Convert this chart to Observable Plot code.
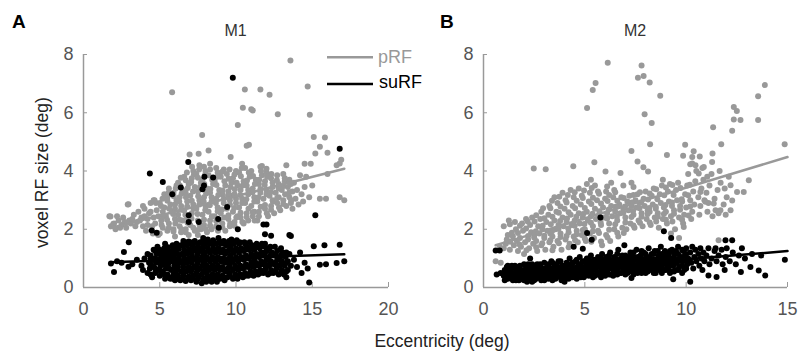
<!DOCTYPE html>
<html><head><meta charset="utf-8">
<script src="https://cdn.jsdelivr.net/npm/d3@7"></script>
<script src="https://cdn.jsdelivr.net/npm/@observablehq/plot@0.6"></script>
<style>
body{margin:0;background:#fff;}
#chart{position:relative;width:799px;height:352px;overflow:hidden;font-family:"Liberation Sans",Arial,sans-serif;}
#chart .panel{position:absolute;top:0;}
#overlay{position:absolute;left:0;top:0;pointer-events:none;}
</style></head>
<body><div id="chart"></div>
<script>
const FONT = '"Liberation Sans", Arial, sans-serif';
const yTicks = [0, 2, 4, 6, 8];
const m1_xTicks = [0, 5, 10, 15, 20];
const m2_xTicks = [0, 5, 10, 15];
const seriesNames = ["pRF", "suRF"];
const panelTitles = ["M1", "M2"];

// fitted lines (start, end)
const m1_fit_pRF = [[1.77, 2.04], [17.1, 4.08]];
const m1_fit_suRF = [[1.77, 0.87], [17.1, 1.14]];
const m2_fit_pRF = [[0.6, 1.45], [15, 4.48]];
const m2_fit_suRF = [[0.6, 0.45], [15, 1.25]];

// M1 pRF: flat x,y pairs
const m1_pRF = [
1.7,2.45, 1.8,2.1, 2.0,2.2, 2.1,2.0, 2.3,2.3, 2.5,2.15, 2.6,2.4, 2.8,2.05, 2.9,2.85, 3.0,2.3, 3.1,2.2, 3.3,2.5, 3.5,2.25, 3.6,2.6, 3.8,2.4, 3.9,2.1, 4.0,2.7, 4.1,1.95, 4.2,2.35, 4.3,2.55, 4.4,2.9, 4.5,2.1, 4.6,3.0, 4.7,2.2, 4.8,2.65, 4.9,1.8, 4.9,2.45,
2.2,2.45, 2.7,2.25, 3.2,2.35, 3.4,2.1, 3.7,2.3, 4.0,2.45, 4.2,2.15, 4.4,2.6, 4.6,2.4, 4.75,2.9, 4.55,1.85, 2.4,2.05, 3.9,2.8,
5.0,1.85, 5.1,2.3, 5.2,2.6, 5.0,2.9, 5.3,3.2, 5.2,2.05, 5.3,2.75,
5.5,1.95, 5.4,2.45, 5.6,2.2, 5.7,2.85, 5.5,3.1, 5.6,3.4, 5.8,2.6,
5.9,2.0, 6.0,2.35, 6.1,3.0, 5.9,3.25, 6.0,2.7, 6.1,3.5, 6.0,1.75,
6.3,2.1, 6.2,2.5, 6.4,2.8, 6.3,3.1, 6.5,3.35, 6.2,3.6, 6.4,1.9, 6.5,2.3,
6.7,2.0, 6.6,2.65, 6.8,2.95, 6.7,3.25, 6.9,3.55, 6.6,3.8, 6.8,2.4, 6.9,1.8,
7.0,2.15, 7.1,2.55, 7.2,2.85, 7.0,3.15, 7.3,3.45, 7.1,3.75, 7.2,4.0, 7.3,1.95, 7.0,3.6,
7.5,2.3, 7.4,2.7, 7.6,3.0, 7.5,3.3, 7.7,3.6, 7.4,3.9, 7.6,4.2, 7.7,2.0, 7.5,1.8,
7.9,2.15, 7.8,2.5, 8.0,2.8, 7.9,3.1, 8.1,3.4, 7.8,3.7, 8.0,4.0, 8.1,1.9, 8.0,2.65,
8.3,2.3, 8.2,2.6, 8.4,2.95, 8.3,3.25, 8.5,3.55, 8.2,3.85, 8.4,2.0, 8.5,3.0, 8.3,4.25,
8.7,2.1, 8.6,2.45, 8.8,2.75, 8.7,3.05, 8.9,3.35, 8.6,3.65, 8.8,3.95, 8.9,2.3,
9.1,2.2, 9.0,2.55, 9.2,2.9, 9.1,3.2, 9.3,3.5, 9.0,3.8, 9.2,4.05, 9.3,1.95,
9.5,2.35, 9.4,2.7, 9.6,3.0, 9.5,3.3, 9.7,3.6, 9.4,3.9, 9.6,2.1, 9.7,3.15,
9.9,2.25, 9.8,2.6, 10.0,2.9, 9.9,3.2, 10.1,3.5, 9.8,3.75, 10.0,4.0, 10.1,2.45,
10.3,2.4, 10.2,2.75, 10.4,3.05, 10.3,3.35, 10.5,3.65, 10.2,3.95, 10.4,4.25, 10.5,2.2,
10.7,2.55, 10.6,2.9, 10.8,3.2, 10.7,3.5, 10.9,3.8, 10.6,4.1, 10.8,2.3,
11.1,2.45, 11.0,2.8, 11.2,3.1, 11.1,3.4, 11.3,3.7, 11.0,4.0, 11.2,2.6,
11.5,2.6, 11.4,2.95, 11.6,3.25, 11.5,3.55, 11.7,3.85, 11.4,2.3, 11.6,4.15,
11.9,2.7, 11.8,3.05, 12.0,3.35, 11.9,3.65, 12.1,2.45, 12.0,3.95,
12.3,2.8, 12.2,3.15, 12.4,3.45, 12.3,3.75, 12.5,2.55, 12.4,3.0,
12.7,2.9, 12.6,3.25, 12.8,3.55, 12.7,3.85, 12.9,2.65, 12.8,3.1,
13.1,3.0, 13.0,3.35, 13.2,3.65, 13.3,2.8, 13.1,3.9,
13.5,3.1, 13.4,3.45, 13.6,2.9, 13.7,3.3, 13.5,3.7,
13.9,3.05, 14.0,3.35, 13.8,3.6, 14.1,2.85,
14.3,3.2, 14.5,3.45, 14.4,2.95, 14.6,3.8, 14.2,3.85,
14.8,3.1, 15.0,3.5, 14.9,4.25,
5.12,2.15, 5.22,2.45, 5.08,2.8, 5.18,3.05,
5.6,2.05, 5.48,2.33, 5.62,2.7, 5.5,2.98, 5.58,3.25,
5.9,1.92, 6.02,2.2, 5.88,2.52, 6.0,2.85, 5.92,3.13, 6.05,3.4,
6.42,2.0, 6.3,2.33, 6.4,2.67, 6.28,2.95, 6.44,3.23, 6.32,3.5, 6.38,3.77,
6.7,1.9, 6.82,2.22, 6.68,2.5, 6.8,2.78, 6.72,3.1, 6.84,3.42, 6.7,3.68, 6.78,3.95,
7.2,2.05, 7.08,2.37, 7.22,2.7, 7.1,2.98, 7.18,3.3, 7.06,3.62, 7.24,3.88, 7.12,4.15,
7.5,1.97, 7.62,2.15, 7.48,2.52, 7.6,2.85, 7.52,3.13, 7.64,3.45, 7.5,3.77, 7.58,4.05,
8.02,2.0, 7.9,2.33, 8.0,2.67, 7.88,2.95, 8.04,3.23, 7.92,3.55, 7.98,3.87, 7.9,4.15,
8.3,2.13, 8.42,2.45, 8.28,2.82, 8.4,3.1, 8.32,3.38, 8.44,3.7, 8.3,4.05,
8.82,1.95, 8.7,2.28, 8.8,2.62, 8.68,2.9, 8.84,3.18, 8.72,3.52, 8.78,3.8, 8.7,4.1,
9.1,2.07, 9.22,2.4, 9.08,2.68, 9.2,3.05, 9.12,3.33, 9.24,3.65, 9.1,3.97,
9.62,2.2, 9.5,2.48, 9.6,2.85, 9.48,3.17, 9.64,3.45, 9.52,3.73, 9.58,4.05,
9.9,2.12, 10.02,2.4, 9.88,2.73, 10.0,3.05, 9.92,3.37, 10.04,3.6, 9.9,3.88,
10.42,2.25, 10.3,2.57, 10.4,2.9, 10.28,3.18, 10.44,3.5, 10.32,3.82, 10.38,4.1,
10.7,2.42, 10.82,2.7, 10.68,3.03, 10.8,3.35, 10.72,3.67, 10.84,3.95,
11.22,2.3, 11.1,2.58, 11.2,2.95, 11.08,3.27, 11.24,3.55, 11.12,3.83,
11.5,2.45, 11.62,2.77, 11.48,3.1, 11.6,3.38, 11.52,3.7, 11.64,4.0,
12.02,2.55, 11.9,2.83, 12.0,3.2, 11.88,3.52, 12.04,3.8,
12.3,2.67, 12.42,2.95, 12.28,3.28, 12.4,3.6, 12.32,3.9,
12.82,2.75, 12.7,3.07, 12.8,3.4, 12.68,3.68,
13.1,2.87, 13.22,3.2, 13.08,3.48, 13.2,3.75,
13.62,3.0, 13.5,3.27, 13.6,3.55,
13.57,7.79, 5.81,6.7, 10.58,6.8, 11.6,6.8, 12.2,6.62, 14.7,6.9, 10.45,6.17, 11.0,6.12, 11.1,6.08, 12.74,5.95, 14.84,5.93, 10.12,5.58, 7.78,5.24, 15.1,5.17, 15.83,5.15, 15.5,4.83, 10.7,4.87, 10.85,4.9, 15.2,4.6, 16.0,4.63, 6.96,4.57, 7.55,4.59, 8.2,4.7, 9.65,4.48, 16.9,4.39, 16.8,4.26, 16.6,4.2, 14.5,4.25, 13.3,4.2, 11.7,4.17, 12.0,4.08, 17.1,3.0, 16.8,3.1, 15.5,3.05, 15.9,3.05, 13.7,2.7, 16.0,3.9, 2.95,2.86, 1.77,2.44, 4.66,3.0, 1.95,2.18
];

// M1 suRF
const m1_suRF = [
1.8,0.82, 2.0,0.53, 2.2,0.9, 2.5,0.85, 2.65,1.22, 2.95,0.71, 2.97,1.55, 3.2,0.8, 3.5,0.95, 3.8,0.75, 4.0,1.0, 3.9,0.6,
4.2,0.5, 4.3,0.85, 4.2,1.15, 4.35,0.65, 4.4,1.0,
4.5,0.35, 4.6,0.7, 4.5,1.0, 4.6,1.3, 4.7,0.5, 4.75,0.85,
4.8,1.15, 4.9,0.6, 4.95,0.95, 4.85,1.4,
5.0,0.4, 5.05,0.75, 5.1,1.05, 5.0,1.3, 5.2,0.55, 5.2,0.9, 5.25,1.2,
5.35,0.3, 5.4,0.65, 5.4,0.95, 5.45,1.25, 5.35,1.5, 5.5,0.45, 5.55,0.8, 5.6,1.1, 5.55,1.38,
5.7,0.3, 5.75,0.6, 5.7,0.9, 5.8,1.2, 5.85,1.45, 5.9,0.45, 5.95,0.75, 5.9,1.05,
6.0,0.25, 6.05,0.55, 6.1,0.88, 6.0,1.2, 6.1,1.5, 6.2,0.4, 6.2,0.7, 6.25,1.02, 6.25,1.32,
6.35,0.25, 6.4,0.55, 6.4,0.85, 6.45,1.15, 6.4,1.45, 6.55,0.4, 6.55,0.7, 6.6,1.0, 6.6,1.3, 6.55,1.6,
6.7,0.22, 6.75,0.55, 6.75,0.85, 6.8,1.15, 6.8,1.45, 6.9,0.38, 6.9,0.7, 6.95,1.0, 6.95,1.3, 6.9,1.58,
7.05,0.25, 7.05,0.55, 7.1,0.85, 7.1,1.15, 7.15,1.45, 7.2,0.4, 7.25,0.7, 7.25,1.0, 7.3,1.3, 7.3,1.6,
7.4,0.2, 7.4,0.5, 7.45,0.8, 7.45,1.1, 7.5,1.4, 7.55,0.35, 7.6,0.65, 7.6,0.95, 7.6,1.25, 7.65,1.55,
7.75,0.15, 7.75,0.45, 7.8,0.75, 7.8,1.05, 7.8,1.35, 7.85,1.7, 7.9,0.3, 7.95,0.6, 7.95,0.9, 7.95,1.2, 8.0,1.5,
8.05,0.2, 8.1,0.45, 8.1,0.75, 8.1,1.05, 8.15,1.35, 8.15,1.65, 8.25,0.3, 8.25,0.6, 8.3,0.9, 8.3,1.2, 8.3,1.5,
8.4,0.2, 8.45,0.45, 8.45,0.75, 8.45,1.05, 8.5,1.35, 8.5,1.62, 8.6,0.3, 8.6,0.6, 8.65,0.9, 8.65,1.2, 8.7,1.5,
8.75,0.2, 8.8,0.45, 8.8,0.75, 8.8,1.05, 8.85,1.35, 8.85,1.7, 8.95,0.3, 8.95,0.6, 9.0,0.9, 9.0,1.2, 9.0,1.5,
9.1,0.4, 9.1,0.7, 9.15,1.0, 9.15,1.3, 9.2,1.6, 9.25,0.25, 9.3,0.55, 9.3,0.85, 9.3,1.15, 9.35,1.45,
9.45,0.35, 9.45,0.65, 9.5,0.95, 9.5,1.25, 9.5,1.55, 9.6,0.5, 9.6,0.8, 9.65,1.1, 9.65,1.4, 9.7,1.65,
9.8,0.3, 9.8,0.6, 9.8,0.9, 9.85,1.2, 9.85,1.5, 9.95,0.45, 9.95,0.75, 10.0,1.05, 10.0,1.35, 10.05,1.62,
10.1,0.3, 10.15,0.6, 10.15,0.9, 10.2,1.2, 10.2,1.5, 10.3,0.45, 10.3,0.75, 10.35,1.05, 10.35,1.35,
10.45,0.35, 10.45,0.65, 10.5,0.95, 10.5,1.25, 10.55,1.55, 10.6,0.5, 10.65,0.8, 10.65,1.1, 10.7,1.4,
10.8,0.4, 10.8,0.7, 10.85,1.0, 10.85,1.3, 10.9,1.55, 10.95,0.55, 11.0,0.85, 11.0,1.15, 11.05,1.45,
11.15,0.4, 11.15,0.7, 11.2,1.0, 11.2,1.3, 11.3,0.55, 11.3,0.85, 11.35,1.15, 11.35,1.5,
11.45,0.45, 11.5,0.75, 11.5,1.05, 11.55,1.35, 11.6,0.6, 11.65,0.9, 11.65,1.2, 11.7,1.5,
11.8,0.5, 11.8,0.8, 11.85,1.1, 11.9,1.4, 11.95,0.65, 12.0,0.95, 12.0,1.25,
12.1,0.45, 12.15,0.75, 12.15,1.05, 12.2,1.35, 12.3,0.6, 12.3,0.9, 12.35,1.2,
12.45,0.5, 12.5,0.8, 12.5,1.1, 12.55,1.4, 12.65,0.65, 12.7,0.95, 12.7,1.25,
12.8,0.45, 12.85,0.75, 12.9,1.05, 13.0,0.6, 13.0,0.9, 13.05,1.2,
13.15,0.45, 13.2,0.75, 13.25,1.05, 13.4,0.6, 13.4,0.9, 13.5,1.15, 13.6,0.75, 13.8,0.95, 14.0,0.7, 14.2,1.2, 14.5,0.85, 14.3,0.5,
4.4,0.45, 4.4,0.8, 4.4,1.1, 4.7,0.65, 4.7,1.0, 4.7,1.25, 5.0,0.6, 5.0,0.9, 5.0,1.15,
5.3,0.45, 5.3,0.8, 5.3,1.1, 5.3,1.35, 5.6,0.35, 5.6,0.65, 5.6,0.95, 5.6,1.25,
5.9,0.3, 5.9,0.6, 5.9,0.9, 5.9,1.2, 5.9,1.35, 6.15,0.3, 6.15,0.6, 6.15,0.85, 6.15,1.15, 6.15,1.45,
6.5,0.3, 6.5,0.55, 6.5,0.85, 6.5,1.15, 6.5,1.45, 6.85,0.3, 6.85,0.6, 6.85,0.95, 6.85,1.25, 6.85,1.55,
7.15,0.3, 7.15,0.65, 7.15,0.95, 7.15,1.25, 7.15,1.55, 7.5,0.3, 7.5,0.6, 7.5,0.9, 7.5,1.2, 7.5,1.5,
7.85,0.25, 7.85,0.55, 7.85,0.85, 7.85,1.15, 7.85,1.45, 7.85,1.6, 8.2,0.35, 8.2,0.65, 8.2,0.95, 8.2,1.25, 8.2,1.55,
8.55,0.35, 8.55,0.65, 8.55,0.95, 8.55,1.25, 8.55,1.5, 8.9,0.35, 8.9,0.65, 8.9,1.0, 8.9,1.3, 8.9,1.6,
9.2,0.35, 9.2,0.6, 9.2,0.9, 9.2,1.2, 9.2,1.5, 9.55,0.4, 9.55,0.7, 9.55,1.0, 9.55,1.3, 9.55,1.6,
9.9,0.35, 9.9,0.65, 9.9,0.95, 9.9,1.25, 9.9,1.55, 10.25,0.4, 10.25,0.7, 10.25,1.0, 10.25,1.3, 10.25,1.55,
10.6,0.4, 10.6,0.7, 10.6,1.0, 10.6,1.3, 10.6,1.5, 10.95,0.45, 10.95,0.75, 10.95,1.05, 10.95,1.35,
11.25,0.45, 11.25,0.75, 11.25,1.05, 11.25,1.4, 11.6,0.5, 11.6,0.8, 11.6,1.1, 11.6,1.4,
11.9,0.55, 11.9,0.85, 11.9,1.2, 11.9,1.5, 12.25,0.5, 12.25,0.8, 12.25,1.1, 12.25,1.4,
12.6,0.55, 12.6,0.85, 12.6,1.15, 12.95,0.5, 12.95,0.8, 12.95,1.1, 12.95,1.35, 13.3,0.55, 13.3,0.85, 13.3,1.2,
9.79,7.2, 16.8,4.76, 6.87,4.31, 4.35,3.91, 5.2,3.62, 5.82,3.2, 6.38,3.43, 7.93,3.8, 8.5,3.78, 7.9,3.5, 7.8,3.37, 9.42,2.76, 15.2,2.48, 6.9,2.48, 6.9,2.25, 7.56,2.25, 8.83,2.35, 8.87,2.05, 10.12,2.0, 11.8,2.16, 12.0,2.16, 4.48,1.96, 4.8,1.88, 15.1,1.42, 15.8,1.45, 16.8,1.47, 17.1,0.9, 16.6,0.84, 15.9,0.8, 15.5,0.78, 14.7,0.65, 14.8,0.17, 13.3,0.35, 13.6,1.77, 13.5,1.8, 12.3,1.78, 11.9,1.83
];

// M2 pRF
const m2_pRF = [
0.6,0.9, 0.85,0.85, 0.8,1.4, 1.0,1.35,
1.1,1.5, 1.2,1.8, 1.0,2.1, 1.3,1.3, 1.25,2.3, 1.15,1.65,
1.5,1.45, 1.45,1.75, 1.6,2.0, 1.55,2.25, 1.7,1.25, 1.65,1.6,
1.85,1.4, 1.8,1.7, 1.95,1.95, 1.9,2.2, 2.05,1.55, 2.0,1.15, 2.1,2.35,
2.25,1.35, 2.2,1.65, 2.35,1.9, 2.3,2.15, 2.45,1.5, 2.4,2.4, 2.5,1.8, 2.48,4.09,
2.65,1.25, 2.6,1.6, 2.75,1.85, 2.7,2.1, 2.85,1.45, 2.8,2.35, 2.9,2.0, 2.85,2.6,
3.05,1.3, 3.0,1.7, 3.15,1.95, 3.1,2.25, 3.25,1.55, 3.2,2.5, 3.3,1.85, 3.25,2.8, 3.07,4.06,
3.45,1.4, 3.4,1.75, 3.55,2.0, 3.5,2.3, 3.65,1.6, 3.6,2.6, 3.7,2.15, 3.65,2.9, 3.5,3.1,
3.85,1.3, 3.8,1.85, 3.95,2.1, 3.9,2.4, 4.05,1.65, 4.0,2.7, 4.1,2.25, 4.05,3.0, 3.9,3.25,
4.25,1.5, 4.2,1.9, 4.35,2.15, 4.3,2.5, 4.45,1.75, 4.4,2.8, 4.5,2.3, 4.45,3.1, 4.3,3.35, 4.43,4.16,
4.65,1.55, 4.6,1.95, 4.75,2.2, 4.7,2.55, 4.85,1.8, 4.8,2.85, 4.9,2.4, 4.85,3.15, 4.7,3.4,
5.05,1.6, 5.0,2.0, 5.15,2.3, 5.1,2.6, 5.25,1.85, 5.2,2.95, 5.3,2.45, 5.25,3.25, 5.1,3.55, 5.3,3.7,
5.45,1.7, 5.4,2.1, 5.55,2.35, 5.5,2.7, 5.65,1.95, 5.6,3.0, 5.7,2.5, 5.65,3.3, 5.5,3.5, 5.47,4.3,
5.85,1.45, 5.8,2.15, 5.95,2.4, 5.9,2.75, 6.05,1.8, 6.0,3.05, 6.1,2.55, 6.05,3.3, 6.02,3.98,
6.25,1.6, 6.2,2.2, 6.35,2.45, 6.3,2.8, 6.45,2.0, 6.4,3.1, 6.5,2.6, 6.45,3.35, 6.3,3.6,
6.65,1.75, 6.6,2.3, 6.75,2.55, 6.7,2.85, 6.85,2.05, 6.8,3.1, 6.9,2.7, 6.76,3.93, 6.9,3.5,
7.05,2.0, 7.0,2.4, 7.15,2.65, 7.1,2.95, 7.25,2.2, 7.2,3.15, 7.3,2.8, 7.3,3.6, 7.4,3.45,
7.45,2.05, 7.4,2.5, 7.55,2.75, 7.5,3.0, 7.65,2.3, 7.6,3.2, 7.7,2.9,
7.85,2.1, 7.8,2.55, 7.95,2.8, 7.9,3.05, 8.05,2.35, 8.0,3.3, 8.1,2.65,
8.25,2.15, 8.2,2.6, 8.35,2.85, 8.3,3.15, 8.45,2.4, 8.4,3.4, 8.5,2.7,
8.65,2.05, 8.6,2.55, 8.75,2.9, 8.7,3.2, 8.85,2.35, 8.8,3.5, 8.9,2.75, 8.85,3.7,
9.05,2.2, 9.0,2.6, 9.15,2.95, 9.1,3.3, 9.25,2.45, 9.2,3.55, 9.3,2.8, 9.25,1.85,
9.45,2.0, 9.4,2.65, 9.55,3.0, 9.5,3.35, 9.65,2.4, 9.6,3.6, 9.7,2.8, 9.65,1.7,
9.85,2.2, 9.8,2.95, 9.95,3.2, 9.9,2.5, 10.05,3.5, 10.0,2.75, 10.1,3.9, 9.88,2.08,
10.25,2.35, 10.2,3.0, 10.35,3.3, 10.3,2.6, 10.45,3.65, 10.4,2.85, 10.5,4.0,
10.65,2.5, 10.6,3.1, 10.75,3.4, 10.7,2.8, 10.85,3.7, 10.8,4.1, 10.9,3.0,
11.05,2.6, 11.0,3.25, 11.15,3.5, 11.1,2.9, 11.25,3.9, 11.3,2.45,
11.45,2.65, 11.4,3.05, 11.55,3.35, 11.65,4.0, 11.6,2.55, 11.7,3.6,
11.85,2.85, 11.9,3.4, 12.0,3.1, 12.1,3.8, 11.95,2.5,
12.19,3.51, 12.51,3.28, 12.84,3.28, 13.09,3.68, 12.27,2.99, 12.19,2.65, 11.69,2.65, 11.36,2.88, 10.95,2.94, 10.7,3.28, 11.04,3.8, 10.62,3.91, 10.87,4.14, 11.28,4.31, 10.46,4.2, 10.3,4.26,
1.32,1.57, 1.4,1.88, 1.3,2.17, 1.78,1.48, 1.7,1.87, 1.8,2.12,
2.12,1.28, 2.2,1.77, 2.1,2.03, 2.18,2.27, 2.6,1.38, 2.5,1.72, 2.58,1.93, 2.52,2.27, 2.6,2.48,
2.9,1.52, 3.0,1.78, 2.92,2.12, 3.0,2.38, 2.94,2.72,
3.4,1.28, 3.3,1.62, 3.38,1.93, 3.32,2.17, 3.4,2.43, 3.3,2.72, 3.38,2.98,
3.72,1.52, 3.8,1.73, 3.7,2.02, 3.78,2.28, 3.72,2.57, 3.8,2.78, 3.74,3.12,
4.2,1.38, 4.1,1.77, 4.18,2.03, 4.12,2.37, 4.2,2.58, 4.1,2.92, 4.16,3.18,
4.52,1.62, 4.6,1.83, 4.5,2.12, 4.58,2.43, 4.52,2.72, 4.6,2.98, 4.5,3.27,
5.0,1.68, 4.9,1.97, 4.98,2.18, 4.92,2.52, 5.0,2.73, 4.9,3.07, 4.96,3.33,
5.32,1.57, 5.4,1.93, 5.3,2.22, 5.38,2.53, 5.32,2.87, 5.4,3.08, 5.34,3.42,
5.8,1.58, 5.7,1.87, 5.78,2.23, 5.72,2.62, 5.8,2.88, 5.7,3.22,
6.12,1.72, 6.2,1.98, 6.1,2.37, 6.18,2.68, 6.12,2.97, 6.2,3.18, 6.1,3.47,
6.6,1.88, 6.5,2.17, 6.58,2.43, 6.52,2.77, 6.6,2.98, 6.5,3.27,
6.92,1.87, 7.0,2.23, 6.9,2.57, 6.98,2.78, 6.92,3.07,
7.4,2.13, 7.3,2.42, 7.38,2.63, 7.32,2.92, 7.4,3.18,
7.72,2.22, 7.8,2.43, 7.7,2.72, 7.78,2.93, 7.72,3.27,
8.2,2.23, 8.1,2.52, 8.18,2.73, 8.12,3.02, 8.2,3.23,
8.52,2.27, 8.6,2.43, 8.5,2.77, 8.58,3.03, 8.52,3.37,
9.0,2.33, 8.9,2.52, 8.98,2.83, 8.92,3.17, 9.0,3.43,
9.32,2.27, 9.4,2.53, 9.3,2.92, 9.38,3.18, 9.32,3.52,
9.8,2.33, 9.7,2.67, 9.78,3.03, 9.72,3.42,
10.12,2.47, 10.2,2.78, 10.1,3.17, 10.18,3.53,
6.13,7.72, 7.8,7.62, 7.62,7.2, 7.9,7.26, 8.2,7.04, 5.53,7.02, 5.39,6.78, 8.72,6.58, 5.11,6.16, 7.95,5.95, 8.3,5.65, 8.22,4.92, 7.6,4.33, 7.89,4.13, 8.12,3.98, 7.3,4.69, 9.05,4.55, 9.95,4.9, 9.85,4.52, 10.37,4.68, 10.3,4.48, 10.67,4.5, 10.2,4.23, 11.33,5.5, 11.73,4.92, 12.35,6.2, 12.5,6.06, 12.35,5.77, 12.68,5.75, 12.27,5.38, 13.55,6.57, 13.88,6.95, 13.55,5.75, 14.86,4.92, 11.6,1.62, 11.3,4.6
];

// M2 suRF
const m2_suRF = [
0.6,1.27, 0.8,1.27, 0.65,0.45, 0.85,0.5,
1.0,0.4, 1.05,0.55, 1.1,0.3, 1.15,0.7, 1.2,0.45, 1.25,0.6,
1.3,0.35, 1.35,0.5, 1.4,0.65, 1.45,0.25, 1.5,0.45, 1.55,0.75,
1.6,0.35, 1.65,0.55, 1.7,0.7, 1.75,0.25, 1.8,0.45, 1.85,0.6,
1.9,0.3, 1.95,0.5, 2.0,0.8, 2.05,0.4, 2.1,0.65, 2.15,0.2,
2.2,0.35, 2.25,0.55, 2.3,0.75, 2.35,0.3, 2.4,0.5, 2.45,0.65, 2.3,1.0,
2.5,0.25, 2.55,0.4, 2.6,0.6, 2.65,0.8, 2.7,0.35, 2.75,0.5,
2.8,0.7, 2.85,0.25, 2.9,0.45, 2.95,0.6, 3.0,0.85, 3.05,0.35,
3.1,0.55, 3.15,0.7, 3.2,0.3, 3.25,0.45, 3.3,0.65, 3.35,0.9,
3.4,0.35, 3.45,0.55, 3.5,0.75, 3.55,0.3, 3.6,0.5, 3.65,0.65,
3.7,0.9, 3.75,0.4, 3.8,0.6, 3.85,0.25, 3.9,0.75, 3.95,0.5,
4.0,0.2, 4.0,0.35, 4.05,0.65, 4.1,0.85, 4.15,0.45, 4.2,0.6, 4.25,1.0,
4.3,0.35, 4.35,0.75, 4.4,0.5, 4.45,1.4, 4.5,0.65, 4.55,0.9,
4.6,0.4, 4.65,0.55, 4.7,0.8, 4.75,1.05, 4.8,0.45, 4.85,0.65,
4.9,1.33, 4.9,0.9, 4.95,0.35, 5.0,0.55, 5.05,0.75, 5.1,1.0, 5.11,1.87, 5.15,0.45,
5.2,0.65, 5.25,0.85, 5.3,1.1, 5.34,1.64, 5.35,0.5, 5.4,0.7, 5.45,0.95,
5.5,0.4, 5.55,0.6, 5.6,0.8, 5.65,1.05, 5.7,0.5, 5.75,0.7, 5.77,2.4,
5.8,0.9, 5.85,1.15, 5.9,0.45, 5.95,0.65, 6.0,0.85, 6.05,1.05,
6.1,0.55, 6.15,0.75, 6.2,0.95, 6.25,1.2, 6.3,0.45, 6.35,0.65,
6.4,0.85, 6.45,1.05, 6.5,0.55, 6.55,0.75, 6.6,0.95, 6.65,1.3,
6.7,0.5, 6.75,0.7, 6.8,0.9, 6.85,1.1, 6.9,0.6, 6.95,1.45,
7.0,0.8, 7.05,1.0, 7.1,0.5, 7.15,0.7, 7.2,0.95, 7.25,1.2,
7.3,0.33, 7.3,0.6, 7.35,0.85, 7.4,1.05, 7.45,0.55, 7.5,0.75, 7.55,1.3,
7.6,0.95, 7.65,0.6, 7.7,0.8, 7.75,1.1, 7.8,0.5, 7.85,0.9,
7.9,1.2, 7.95,0.65, 8.0,0.85, 8.05,1.05, 8.1,0.55, 8.15,1.35,
8.2,0.75, 8.25,0.95, 8.3,1.15, 8.35,0.6, 8.4,0.85, 8.45,1.25,
8.5,0.5, 8.55,0.7, 8.6,0.95, 8.65,1.1, 8.7,0.65, 8.75,1.4,
8.8,0.85, 8.85,1.05, 8.9,1.93, 8.9,0.6, 8.95,1.25, 9.0,0.8, 9.05,1.0,
9.1,0.65, 9.15,1.15, 9.2,0.9, 9.26,1.7, 9.25,0.55, 9.36,0.28, 9.3,1.3, 9.35,0.75,
9.4,1.05, 9.45,0.6, 9.5,1.25, 9.55,0.85, 9.6,1.4, 9.65,0.7, 9.7,1.05,
9.8,0.9, 9.85,1.25, 9.9,0.6, 9.95,1.1, 10.0,1.35, 10.05,0.8, 10.1,1.0,
10.2,0.2, 10.2,1.2, 10.25,0.85, 10.3,1.4, 10.35,0.65, 10.4,1.05, 10.45,1.3, 10.5,0.9,
10.6,1.15, 10.65,0.75, 10.7,1.35, 10.75,1.0, 10.8,0.6, 10.85,1.2, 10.9,0.9,
11.0,1.1, 11.1,1.35, 11.15,0.8, 11.1,0.41, 11.25,1.0, 11.4,1.25, 11.5,0.9, 11.45,1.35, 11.5,0.36,
11.6,1.1, 11.75,1.3, 11.8,0.8, 11.9,0.6, 11.95,1.05, 12.0,1.35, 11.94,1.62,
12.15,0.9, 12.27,1.62, 12.3,1.2, 12.45,0.8, 12.6,1.1, 12.75,1.35, 12.7,0.53, 12.9,1.0, 13.17,0.7, 13.25,1.15, 13.58,0.58, 13.9,0.41, 13.7,1.1, 14.87,0.95,
1.05,0.25, 1.05,0.6, 1.2,0.3, 1.2,0.55, 1.2,0.75, 1.4,0.35, 1.4,0.5, 1.4,0.75, 1.6,0.25, 1.6,0.45, 1.6,0.65,
1.8,0.3, 1.8,0.55, 1.8,0.75, 2.0,0.25, 2.0,0.45, 2.0,0.6, 2.2,0.25, 2.2,0.45, 2.2,0.65, 2.2,0.8,
2.4,0.2, 2.4,0.4, 2.4,0.6, 2.4,0.8, 2.6,0.3, 2.6,0.5, 2.6,0.7, 2.8,0.35, 2.8,0.55, 2.8,0.8,
3.0,0.25, 3.0,0.45, 3.0,0.65, 3.2,0.4, 3.2,0.6, 3.2,0.8, 3.4,0.25, 3.4,0.45, 3.4,0.65, 3.4,0.85,
3.6,0.35, 3.6,0.6, 3.6,0.8, 3.8,0.35, 3.8,0.5, 3.8,0.7, 3.8,0.9, 4.0,0.45, 4.0,0.55, 4.0,0.75,
4.2,0.3, 4.2,0.5, 4.2,0.8, 4.4,0.35, 4.4,0.6, 4.4,0.85, 4.6,0.3, 4.6,0.5, 4.6,0.7, 4.6,0.95,
4.8,0.35, 4.8,0.55, 4.8,0.8, 5.0,0.4, 5.0,0.65, 5.0,0.9, 5.2,0.4, 5.2,0.55, 5.2,0.8, 5.2,1.0,
5.4,0.35, 5.4,0.6, 5.4,0.85, 5.6,0.45, 5.6,0.7, 5.6,0.9, 5.8,0.35, 5.8,0.55, 5.8,0.75, 5.8,1.0,
6.0,0.4, 6.0,0.6, 6.0,0.95, 6.2,0.45, 6.2,0.65, 6.2,0.85, 6.2,1.1, 6.4,0.4, 6.4,0.6, 6.4,0.75, 6.4,0.95,
6.6,0.45, 6.6,0.65, 6.6,0.85, 6.6,1.15, 6.8,0.5, 6.8,0.75, 6.8,1.0, 7.0,0.45, 7.0,0.65, 7.0,0.9, 7.0,1.1,
7.2,0.55, 7.2,0.8, 7.2,1.05, 7.4,0.45, 7.4,0.7, 7.4,0.95, 7.4,1.2, 7.6,0.5, 7.6,0.75, 7.6,1.05,
7.8,0.65, 7.8,0.8, 7.8,1.0, 7.8,1.25, 8.0,0.5, 8.0,0.7, 8.0,0.95, 8.0,1.15, 8.2,0.6, 8.2,0.85, 8.2,1.05,
8.4,0.5, 8.4,0.7, 8.4,0.95, 8.4,1.15, 8.6,0.6, 8.6,0.8, 8.6,1.0, 8.6,1.25, 8.8,0.5, 8.8,0.7, 8.8,0.95, 8.8,1.15,
9.0,0.6, 9.0,0.9, 9.0,1.1, 9.2,0.5, 9.2,0.75, 9.2,1.0, 9.2,1.25, 9.4,0.55, 9.4,0.8, 9.4,0.95, 9.4,1.2,
9.6,0.6, 9.6,0.95, 9.6,1.15, 9.8,0.5, 9.8,0.75, 9.8,1.05, 9.8,1.3, 10.0,0.65, 10.0,0.9, 10.0,1.15
];

function pairs(a) {
  const out = [];
  for (let i = 0; i + 1 < a.length; i += 2) out.push({x: a[i], y: a[i + 1]});
  return out;
}

function panel(pr, su, fitP, fitS, xTicks, width) {
  const xmax = xTicks[xTicks.length - 1];
  return Plot.plot({
    width, height: 352,
    marginLeft: 83, marginRight: 12, marginTop: 54, marginBottom: 65,
    style: {fontFamily: FONT, fontSize: "18px", color: "#555", background: "none", overflow: "visible"},
    x: {domain: [0, xmax]},
    y: {domain: [0, 8]},
    marks: [
      Plot.axisX({ticks: xTicks, tickSize: -5, tickPadding: 20, stroke: "#999", fill: "#555", label: null}),
      Plot.axisY({ticks: yTicks, tickSize: -4, tickPadding: 14, stroke: "#999", fill: "#555", label: null}),
      Plot.ruleY([0], {x1: 0, x2: xmax, stroke: "#999", strokeWidth: 1.5}),
      Plot.ruleX([0], {y1: 0, y2: 8, stroke: "#999", strokeWidth: 1.5}),
      Plot.dot(pairs(pr), {x: "x", y: "y", r: 3, fill: "#999"}),
      Plot.line(fitP, {stroke: "#999", strokeWidth: 2.5}),
      Plot.dot(pairs(su), {x: "x", y: "y", r: 3, fill: "#000"}),
      Plot.line(fitS, {stroke: "#000", strokeWidth: 2.5})
    ]
  });
}

const root = document.getElementById("chart");
const pA = panel(m1_pRF, m1_suRF, m1_fit_pRF, m1_fit_suRF, m1_xTicks, 400);
pA.classList.add("panel"); pA.style.left = "0px";
const pB = panel(m2_pRF, m2_suRF, m2_fit_pRF, m2_fit_suRF, m2_xTicks, 399);
pB.classList.add("panel"); pB.style.left = "400px";
root.appendChild(pA);
root.appendChild(pB);

const NS = "http://www.w3.org/2000/svg";
const ov = document.createElementNS(NS, "svg");
ov.setAttribute("id", "overlay");
ov.setAttribute("width", 799);
ov.setAttribute("height", 352);
ov.setAttribute("font-family", FONT);
function txt(s, attrs) {
  const t = document.createElementNS(NS, "text");
  for (const k in attrs) t.setAttribute(k, attrs[k]);
  t.textContent = s;
  ov.appendChild(t);
}
function ln(attrs) {
  const l = document.createElementNS(NS, "line");
  for (const k in attrs) l.setAttribute(k, attrs[k]);
  ov.appendChild(l);
}
txt("A", {x: 12, y: 27.5, "font-size": 19, "font-weight": "bold", fill: "#000"});
txt("B", {x: 440, y: 27.5, "font-size": 19, "font-weight": "bold", fill: "#000"});
txt(panelTitles[0], {x: 235.5, y: 36, "font-size": 16, "text-anchor": "middle", fill: "#333"});
txt(panelTitles[1], {x: 635, y: 36, "font-size": 16, "text-anchor": "middle", fill: "#333"});
txt("voxel RF size (deg)", {transform: "translate(48,172.5) rotate(-90)", "font-size": 17.5, "text-anchor": "middle", fill: "#222"});
txt("Eccentricity (deg)", {x: 442, y: 346.5, "font-size": 17.5, "text-anchor": "middle", fill: "#222"});
ln({x1: 327, x2: 373, y1: 57.3, y2: 57.3, stroke: "#999", "stroke-width": 2.5});
txt(seriesNames[0], {x: 378, y: 62.5, "font-size": 18, fill: "#999"});
ln({x1: 327, x2: 373, y1: 84, y2: 84, stroke: "#000", "stroke-width": 2.5});
txt(seriesNames[1], {x: 379, y: 88, "font-size": 18, fill: "#000"});
root.appendChild(ov);
</script>
</body></html>
